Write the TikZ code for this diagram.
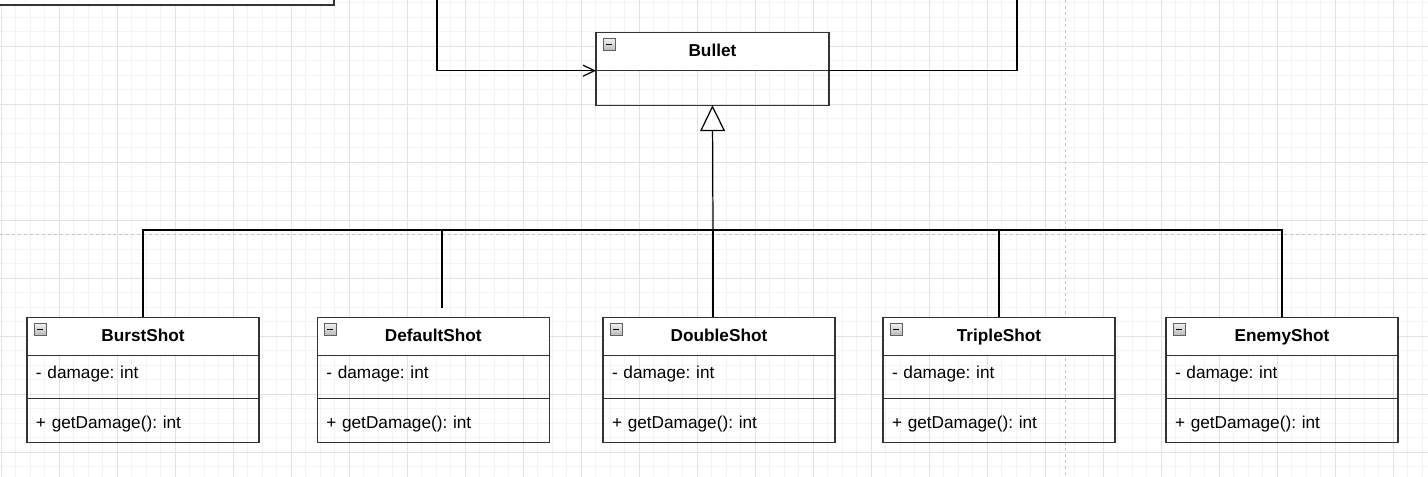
\documentclass[tikz,border=0pt]{standalone}
\usepackage{fontspec}
\setmainfont{Liberation Sans}
\frenchspacing
\usetikzlibrary{positioning,arrows.meta}
\definecolor{gridminor}{HTML}{F3F3F3}
\definecolor{gridmajor}{HTML}{E2E2E2}
\definecolor{pagebreak}{HTML}{C4C4C4}
\definecolor{boxline}{HTML}{333333}
\tikzset{
  clstitle/.style={draw=boxline,line width=0.75pt,fill=white,outer sep=0pt,inner sep=0pt,
    minimum width=4.64cm,minimum height=0.76cm,text height=7pt,text depth=1.2pt,
    font=\fontsize{9.8}{12}\selectfont\bfseries},
  clsrow/.style={draw=boxline,line width=0.75pt,outer sep=0pt,inner sep=0pt,
    minimum width=4.64cm,minimum height=0.87cm,text width=4.28cm,align=left,
    font=\fontsize{9.8}{12}\selectfont},
  attrrow/.style={clsrow,text height=7pt,text depth=4.8pt},
  methrow/.style={clsrow,text height=11pt,text depth=2.5pt},
  minusicon/.pic={
    \shade[top color=gray!12,bottom color=gray!55,draw=gray!75!black,line width=0.4pt] (0pt,0pt) rectangle (0.24cm,-0.24cm);
    \draw[line width=0.9pt] (0.06cm,-0.12cm) -- (0.18cm,-0.12cm);},
  conn/.style={line width=0.7pt,black}
}
\begin{document}
\begin{tikzpicture}[x=0.02cm,y=-0.02cm]
	\useasboundingbox (0,0) rectangle (1428,477);
	\clip (0,0) rectangle (1428,477);
	\fill[white] (0,0) rectangle (1428,477);
	
	\foreach \k in {0,...,98}
	\draw[gridminor,line width=0.5pt] (1.3+\k*14.5,0) -- (1.3+\k*14.5,477);
	\foreach \k in {0,...,33}
	\draw[gridminor,line width=0.5pt] (0,2.5+\k*14.5) -- (1428,2.5+\k*14.5);
	\foreach \k in {0,...,24}
	\draw[gridmajor,line width=0.5pt] (1.3+\k*58,0) -- (1.3+\k*58,477);
	\foreach \k in {1,...,9}
	\draw[gridmajor,line width=0.5pt] (0,-12+\k*58) -- (1428,-12+\k*58);
	
	\draw[pagebreak,line width=0.5pt,dash pattern=on 1.7pt off 1.7pt] (0,234) -- (1428,234);
	\draw[pagebreak,line width=0.5pt,dash pattern=on 1.7pt off 1.7pt] (1065,0) -- (1065,477);
	
	\node[draw=boxline,line width=0.9pt,fill=white,anchor=south east,minimum width=8cm,minimum height=3cm] (topbox) at (335,6) {};
	
	\node[clstitle,anchor=north west,minimum width=4.66cm] (bullet) at (596,32.7) {Bullet};
	\node[clsrow,minimum width=4.66cm,minimum height=0.69cm,below=0pt of bullet] (bullet-body) {};
	\pic at ([shift={(7,6)}]bullet.north west) {minusicon};
	
	\foreach \name/\x/\title in {burst/27/BurstShot,default/317.3/DefaultShot,double/603/DoubleShot,triple/883/TripleShot,enemy/1166/EnemyShot}
	{
	\node[clstitle,anchor=north west] (\name) at (\x,317.3) {\title};
	\node[attrrow,below=0pt of \name] (\name-attr) {- damage: int};
	\node[methrow,below=0pt of \name-attr] (\name-meth) {+ getDamage(): int};
	\pic at ([shift={(7,6)}]\name.north west) {minusicon};
	}
	
	\coordinate (inA) at (437,-5);
	\coordinate (outB) at (1017,-5);
	\draw[conn,-{Straight Barb[length=2.3mm,width=2.2mm]}] (inA) |- (bullet.south west);
	\draw[conn] (bullet.south east) -| (outB);
	
	\coordinate (hub) at (713,230);
	\coordinate (defaultend) at (442,308);
	\draw[conn,-{Triangle[open,length=5.2mm,width=5mm,fill=white]}] (hub) -- (bullet-body.south);
	\draw[conn] (burst.north) |- (hub);
	\draw[conn] (defaultend) |- (hub);
	\draw[conn] (hub) -- (hub |- double.north);
	\draw[conn] (triple.north) |- (hub);
	\draw[conn] (enemy.north) |- (hub);
\end{tikzpicture}
\end{document}
